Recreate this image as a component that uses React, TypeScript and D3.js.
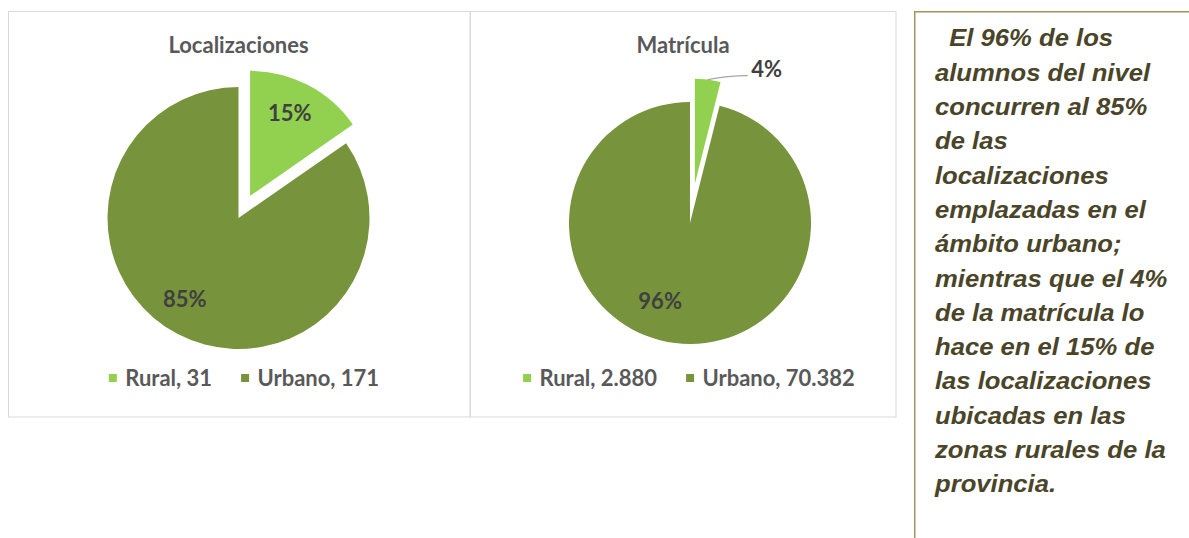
import React, { useEffect, useRef } from "react";
import * as d3 from "d3";

// ---- data ----
const categories = ["Rural", "Urbano"];
const localizacionesValues = [31, 171];
const matriculaValues = [2880, 70382];
const localizacionesLegend = ["Rural, 31", "Urbano, 171"];
const matriculaLegend = ["Rural, 2.880", "Urbano, 70.382"];
const chartTitles = ["Localizaciones", "Matrícula"];
const noteLines = [
  "  El 96% de los",
  "alumnos del nivel",
  "concurren al 85%",
  "de las",
  "localizaciones",
  "emplazadas en el",
  "ámbito urbano;",
  "mientras que el 4%",
  "de la matrícula lo",
  "hace en el 15% de",
  "las localizaciones",
  "ubicadas en las",
  "zonas rurales de la",
  "provincia.",
];

const COLORS = ["#92d050", "#77933c"];
const FONT = "Lato, 'Open Sans', sans-serif";
const FS = 22;

type ChartCfg = {
  title: string;
  values: number[];
  legend: string[];
  cx: number;
  cy: number;
  r: number;
  explodeDist: number;
  explodeR: number;
  titleX: number;
  legendCx: number;
  labelMode: ("inside" | "outside")[];
  labelR: number[];
  labelShiftDeg: number[];
};

const charts: ChartCfg[] = [
  {
    title: chartTitles[0],
    values: localizacionesValues,
    legend: localizacionesLegend,
    cx: 238.5,
    cy: 218,
    r: 131,
    explodeDist: 25,
    explodeR: 125,
    titleX: 238.5,
    legendCx: 244,
    labelMode: ["inside", "inside"],
    labelR: [92, 97],
    labelShiftDeg: [-2, 6],
  },
  {
    title: chartTitles[1],
    values: matriculaValues,
    legend: matriculaLegend,
    cx: 690,
    cy: 223,
    r: 121,
    explodeDist: 39.5,
    explodeR: 105,
    titleX: 683,
    legendCx: 689,
    labelMode: ["outside", "inside"],
    labelR: [0, 83],
    labelShiftDeg: [0, 14],
  },
];

export default function App() {
  const ref = useRef<SVGSVGElement | null>(null);

  useEffect(() => {
    const svg = d3.select(ref.current);
    svg.selectAll("*").remove();

    // panel borders
    svg
      .append("rect")
      .attr("x", 8.5)
      .attr("y", 11.5)
      .attr("width", 461.5)
      .attr("height", 405.5)
      .attr("fill", "#fff")
      .attr("stroke", "#d9d9d9");
    svg
      .append("rect")
      .attr("x", 470.5)
      .attr("y", 11.5)
      .attr("width", 425.5)
      .attr("height", 405.5)
      .attr("fill", "#fff")
      .attr("stroke", "#d9d9d9");

    charts.forEach((c) => {
      const g = svg.append("g");
      const total = d3.sum(c.values);
      const pie = d3
        .pie<number>()
        .sort(null)
        .value((d) => d)
        .startAngle(0)
        .endAngle(2 * Math.PI);
      const arcsData = pie(c.values);

      arcsData.forEach((a, i) => {
        const exploded = i === 0;
        const mid = (a.startAngle + a.endAngle) / 2;
        const dx = exploded ? c.explodeDist * Math.sin(mid) : 0;
        const dy = exploded ? -c.explodeDist * Math.cos(mid) : 0;
        const R = exploded ? c.explodeR : c.r;
        const ox = c.cx + dx;
        const oy = c.cy + dy;
        const arc = d3.arc<d3.PieArcDatum<number>>().innerRadius(0).outerRadius(R);
        g.append("path")
          .attr("transform", `translate(${ox},${oy})`)
          .attr("d", arc(a) as string)
          .attr("fill", COLORS[i]);

        const pct = d3.format(".0%")(a.data / total);
        if (c.labelMode[i] === "inside") {
          const ang = mid + (c.labelShiftDeg[i] * Math.PI) / 180;
          const lx = ox + c.labelR[i] * Math.sin(ang);
          const ly = oy - c.labelR[i] * Math.cos(ang);
          g.append("text")
            .attr("x", lx)
            .attr("y", ly)
            .attr("text-anchor", "middle")
            .attr("dominant-baseline", "central")
            .attr("font-family", FONT)
            .attr("font-weight", 700)
            .attr("font-size", FS)
            .attr("fill", "#404040")
            .text(pct);
        } else {
          const sx = ox + R * Math.sin(mid);
          const sy = oy - R * Math.cos(mid);
          const ex = sx + 40;
          const ey = sy - 4;
          g.append("path")
            .attr("d", `M${sx},${sy}Q${sx + 20},${ey} ${ex},${ey}`)
            .attr("fill", "none")
            .attr("stroke", "#a6a6a6")
            .attr("stroke-width", 1.2);
          g.append("text")
            .attr("x", ex + 3.5)
            .attr("y", ey + 1.5)
            .attr("font-family", FONT)
            .attr("font-weight", 700)
            .attr("font-size", FS)
            .attr("fill", "#404040")
            .text(pct);
        }
      });

      // title
      g.append("text")
        .attr("x", c.titleX)
        .attr("y", 53.3)
        .attr("text-anchor", "middle")
        .attr("font-family", FONT)
        .attr("font-weight", 700)
        .attr("font-size", FS)
        .attr("fill", "#595959")
        .text(c.title);

      // legend
      const lg = g.append("g");
      let x = 0;
      c.legend.forEach((lab, i) => {
        if (i > 0) x += 29;
        lg.append("rect")
          .attr("x", x)
          .attr("y", 374)
          .attr("width", 8)
          .attr("height", 8)
          .attr("fill", COLORS[i]);
        x += 16.4;
        const t = lg
          .append("text")
          .attr("x", x)
          .attr("y", 386)
          .attr("font-family", FONT)
          .attr("font-weight", 700)
          .attr("font-size", FS)
          .attr("fill", "#595959")
          .text(lab);
        const w = (t.node() as SVGTextElement).getComputedTextLength();
        x += w;
      });
      lg.attr("transform", `translate(${c.legendCx - x / 2},0)`);
    });

    // note box
    svg
      .append("path")
      .attr("d", "M914.75,538 V11.75 H1189")
      .attr("fill", "none")
      .attr("stroke", "#a0955f")
      .attr("stroke-width", 1.5);
    const note = svg
      .append("text")
      .attr("transform", "translate(935,0) scale(1.115,1)")
      .attr("font-family", "'Liberation Sans', Arial, sans-serif")
      .attr("font-weight", 700)
      .attr("font-style", "italic")
      .attr("font-size", 23)
      .attr("fill", "#4a4528")
      .attr("xml:space", "preserve");
    noteLines.forEach((line, i) => {
      note
        .append("tspan")
        .attr("x", 0)
        .attr("y", 46.5 + i * 34.3)
        .style("white-space", "pre")
        .text(line);
    });
  }, []);

  return (
    <svg
      ref={ref}
      width={1189}
      height={538}
      style={{ position: "absolute", left: 0, top: 0, background: "#fff" }}
    />
  );
}
